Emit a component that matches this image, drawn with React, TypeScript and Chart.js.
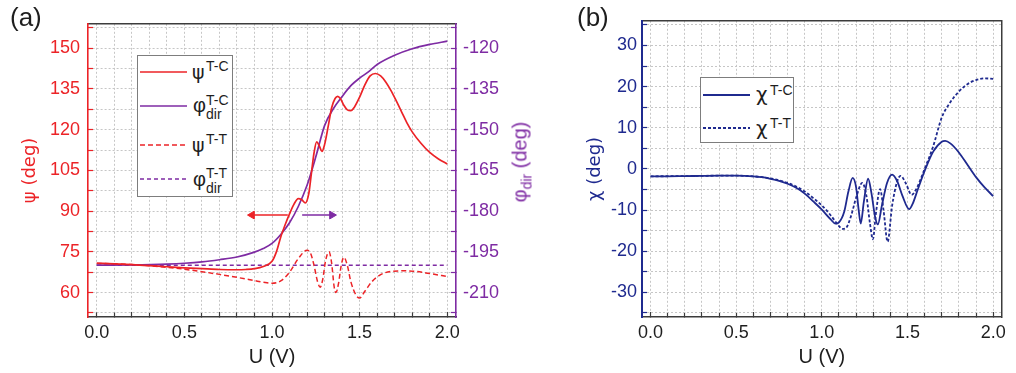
import React, { useEffect, useRef } from 'react';
import { Chart, registerables } from 'chart.js';

Chart.register(...registerables);

// ---------------- data ----------------
const psiTC_U = [0, 0.1, 0.2, 0.3, 0.4, 0.5, 0.6, 0.7, 0.8, 0.85, 0.9, 0.95, 1.0, 1.025, 1.05, 1.075, 1.1, 1.125, 1.15, 1.17, 1.19, 1.21, 1.225, 1.24, 1.255, 1.27, 1.285, 1.3, 1.32, 1.34, 1.36, 1.375, 1.39, 1.41, 1.43, 1.45, 1.47, 1.5, 1.53, 1.56, 1.59, 1.62, 1.65, 1.68, 1.71, 1.74, 1.77, 1.8, 1.85, 1.9, 1.95, 2.0];
const psiTC = [70.8, 70.6, 70.3, 69.9, 69.5, 69.1, 68.8, 68.5, 68.4, 68.5, 68.8, 69.6, 71.5, 75, 80.5, 85, 89, 92.5, 94.6, 94.2, 93, 96.5, 104, 111.5, 115.5, 114, 112, 114.5, 121, 128, 131.5, 132.3, 131.5, 129, 127.3, 127, 128.3, 132, 136.5, 139.8, 140.7, 139.8, 137.5, 134.3, 130.5, 126.5, 122.5, 119.2, 115, 111.6, 109.2, 107.4];

const phiTC_U = [0, 0.2, 0.4, 0.5, 0.6, 0.7, 0.8, 0.9, 0.95, 1.0, 1.05, 1.1, 1.15, 1.2, 1.25, 1.3, 1.35, 1.4, 1.45, 1.5, 1.55, 1.6, 1.7, 1.8, 1.9, 2.0];
const phiTC = [-199.9, -199.8, -199.5, -199.2, -198.7, -197.9, -196.9, -195.1, -193.8, -191.9, -188.6, -184.3, -178.3, -170.5, -160, -148.5, -142.3, -137.8, -133.8, -131, -128.7, -126, -122.6, -120.2, -118.6, -117.4];

const psiTT_U = [0, 0.1, 0.2, 0.3, 0.4, 0.5, 0.6, 0.7, 0.8, 0.9, 0.95, 1.0, 1.05, 1.1, 1.15, 1.2, 1.22, 1.24, 1.26, 1.275, 1.29, 1.305, 1.325, 1.34, 1.355, 1.365, 1.38, 1.395, 1.41, 1.43, 1.45, 1.48, 1.5, 1.53, 1.57, 1.62, 1.68, 1.75, 1.82, 1.9, 2.0];
const psiTT = [70.8, 70.6, 70.3, 69.9, 69.3, 68.6, 67.7, 66.7, 65.6, 64.4, 63.8, 63.4, 64.3, 67.5, 72.5, 75.6, 74.5, 70, 64, 62, 65, 71.5, 75, 71, 62, 60, 63.5, 70, 73, 70, 64, 59, 58, 60.5, 64, 66.6, 67.8, 68, 67.8, 67, 65.9];

const phiTT_U = [0, 2.0];
const phiTT = [-199.9, -199.9];

const chiTC_U = [0, 0.1, 0.2, 0.3, 0.4, 0.5, 0.6, 0.65, 0.7, 0.75, 0.8, 0.85, 0.9, 0.95, 1.0, 1.05, 1.08, 1.1, 1.13, 1.155, 1.18, 1.2, 1.215, 1.227, 1.245, 1.27, 1.29, 1.31, 1.327, 1.35, 1.38, 1.41, 1.44, 1.47, 1.51, 1.53, 1.56, 1.6, 1.65, 1.7, 1.72, 1.75, 1.8, 1.85, 1.9, 1.95, 2.0];
const chiTC = [-1.8, -1.8, -1.75, -1.7, -1.65, -1.65, -1.8, -2.0, -2.4, -2.9, -3.6, -4.6, -6.0, -7.9, -9.9, -12.2, -13.3, -13.0, -10.5, -5.5, -2.2, -4.5, -10, -13.3, -8, -2.4, -6, -11.5, -13.5, -9, -3.5, -1.4, -3, -6.5, -9.8, -8.5, -5, -0.5, 4.2, 6.6, 6.8, 6.2, 4, 1, -2, -4.5, -6.6];

const chiTT_U = [0, 0.2, 0.4, 0.5, 0.6, 0.7, 0.8, 0.85, 0.9, 0.95, 1.0, 1.05, 1.1, 1.12, 1.14, 1.17, 1.2, 1.236, 1.26, 1.28, 1.298, 1.315, 1.34, 1.36, 1.384, 1.41, 1.44, 1.46, 1.49, 1.524, 1.55, 1.6, 1.65, 1.7, 1.75, 1.8, 1.85, 1.9, 1.95, 2.0];
const chiTT = [-1.8, -1.75, -1.65, -1.65, -1.8, -2.3, -3.4, -4.3, -5.5, -7.1, -8.9, -11.2, -13.9, -14.6, -14.4, -11.5, -7, -3.4, -6.5, -13, -17.1, -11, -4.9, -10, -17.7, -9, -3, -1.7, -3.5, -6.3, -5, 0, 5.5, 12.5, 16.2, 18.8, 20.6, 21.6, 22, 21.9];

// arrows in panel (a): [head, tail]
const arrowPsi_U = [0.886, 1.09];
const arrowPsi = [88.55, 88.55];
const arrowPhi_U = [1.172, 1.342];
const arrowPhi = [-181.45, -181.45];

// ticks
const xTickValues = [0, 0.1, 0.2, 0.3, 0.4, 0.5, 0.6, 0.7, 0.8, 0.9, 1.0, 1.1, 1.2, 1.3, 1.4, 1.5, 1.6, 1.7, 1.8, 1.9, 2.0];
const xTickLabels = ['0.0', '', '', '', '', '0.5', '', '', '', '', '1.0', '', '', '', '', '1.5', '', '', '', '', '2.0'];
const psiTickValues = [52.5, 60, 67.5, 75, 82.5, 90, 97.5, 105, 112.5, 120, 127.5, 135, 142.5, 150, 157.5];
const psiTickLabels = ['', '60', '', '75', '', '90', '', '105', '', '120', '', '135', '', '150', ''];
const phiTickValues = [-217.5, -210, -202.5, -195, -187.5, -180, -172.5, -165, -157.5, -150, -142.5, -135, -127.5, -120, -112.5];
const phiTickLabels = ['', '-210', '', '-195', '', '-180', '', '-165', '', '-150', '', '-135', '', '-120', ''];
const chiTickValues = [-35, -30, -25, -20, -15, -10, -5, 0, 5, 10, 15, 20, 25, 30, 35];
const chiTickLabels = ['', '-30', '', '-20', '', '-10', '', '0', '', '10', '', '20', '', '30', ''];

// ---------------- styles ----------------
const FONT = "'Liberation Sans', Arial, Helvetica, sans-serif";
const GREEK = "'DejaVu Sans', 'Noto Sans', sans-serif";
const RED = '#ec2327';
const PURPLE = '#7e2ba3';
const BLUE = '#1f2a8f';
const GRID = '#c6c6c6';
const DARK = '#3c3c3c';
const TEXT = '#1e1e1e';

const pts = (xs: number[], ys: number[]) => xs.map((x, i) => ({ x, y: ys[i] }));

const tickFont = { family: FONT, size: 18 };
const titleFont = { family: FONT, size: 20 };
const greekTitleFont = { family: GREEK, size: 18 };

function xScale() {
  return {
    type: 'linear',
    position: 'bottom',
    min: -0.05,
    max: 2.05,
    afterBuildTicks: (s: any) => { s.ticks = xTickValues.map((v) => ({ value: v })); },
    afterFit: (s: any) => { s.height = 56; },
    ticks: {
      callback: (_v: any, i: number) => xTickLabels[i],
      font: tickFont, color: TEXT, padding: 10, autoSkip: false, maxRotation: 0,
    },
    grid: { color: GRID, lineWidth: 1, tickColor: DARK, tickLength: -5, tickWidth: 1.2 },
    border: { color: DARK, width: 1.5, dash: [2, 2] },
    title: { display: true, text: 'U (V)', color: TEXT, font: titleFont, padding: { top: 0, bottom: 4 } },
  };
}

function topScale() {
  return {
    type: 'linear',
    position: 'top',
    min: -0.05,
    max: 2.05,
    afterFit: (s: any) => { s.height = 20; },
    ticks: { display: false },
    grid: { display: false, drawTicks: false },
    border: { color: DARK, width: 1.5 },
  };
}

function PanelA() {
  const ref = useRef<HTMLCanvasElement>(null);
  useEffect(() => {
    const chart = new Chart(ref.current as HTMLCanvasElement, {
      type: 'line',
      data: {
        datasets: [
          { data: pts(psiTC_U, psiTC), yAxisID: 'y', borderColor: RED, borderWidth: 1.7, pointRadius: 0, cubicInterpolationMode: 'monotone' },
          { data: pts(phiTC_U, phiTC), yAxisID: 'y2', borderColor: PURPLE, borderWidth: 1.7, pointRadius: 0, cubicInterpolationMode: 'monotone' },
          { data: pts(psiTT_U, psiTT), yAxisID: 'y', borderColor: RED, borderWidth: 1.5, borderDash: [5, 3], pointRadius: 0, cubicInterpolationMode: 'monotone' },
          { data: pts(phiTT_U, phiTT), yAxisID: 'y2', borderColor: PURPLE, borderWidth: 1.5, borderDash: [4, 3], pointRadius: 0 },
          { data: pts(arrowPsi_U, arrowPsi), yAxisID: 'y', borderColor: RED, borderWidth: 1.5, pointStyle: 'triangle', pointRadius: [4.5, 0], pointRotation: [-90, 0], pointBackgroundColor: RED, pointBorderColor: RED, pointBorderWidth: 1 },
          { data: pts(arrowPhi_U, arrowPhi), yAxisID: 'y2', borderColor: PURPLE, borderWidth: 1.5, pointStyle: 'triangle', pointRadius: [0, 4.5], pointRotation: [0, 90], pointBackgroundColor: PURPLE, pointBorderColor: PURPLE, pointBorderWidth: 1 },
        ] as any,
      },
      options: {
        animation: false,
        responsive: false,
        layout: { padding: 0 },
        plugins: { legend: { display: false }, tooltip: { enabled: false } },
        scales: {
          x: xScale() as any,
          xTop: topScale() as any,
          y: {
            type: 'linear', position: 'left', min: 51, max: 159,
            afterBuildTicks: (s: any) => { s.ticks = psiTickValues.map((v) => ({ value: v })); },
            afterFit: (s: any) => { s.width = 88; },
            ticks: { callback: (_v: any, i: number) => psiTickLabels[i], font: tickFont, color: RED, padding: 13, autoSkip: false },
            grid: { color: GRID, lineWidth: 1, tickColor: RED, tickLength: -5, tickWidth: 1.2 },
            border: { color: RED, width: 1.6, dash: [2, 2] },
            title: { display: true, text: 'ψ (deg)', color: RED, font: greekTitleFont, padding: { top: 20, bottom: 0 } },
          } as any,
          y2: {
            type: 'linear', position: 'right', min: -219, max: -111,
            afterBuildTicks: (s: any) => { s.ticks = phiTickValues.map((v) => ({ value: v })); },
            afterFit: (s: any) => { s.width = 104; },
            ticks: { callback: (_v: any, i: number) => phiTickLabels[i], font: tickFont, color: PURPLE, padding: 12, autoSkip: false },
            grid: { drawOnChartArea: false, tickColor: PURPLE, tickLength: -5, tickWidth: 1.2 },
            border: { color: PURPLE, width: 1.6 },
          } as any,
        },
      },
    });
    return () => chart.destroy();
  }, []);
  return <canvas ref={ref} width={560} height={373} style={{ position: 'absolute', left: 0, top: 0, width: 560, height: 373 }} />;
}

function PanelB() {
  const ref = useRef<HTMLCanvasElement>(null);
  useEffect(() => {
    const chart = new Chart(ref.current as HTMLCanvasElement, {
      type: 'line',
      data: {
        datasets: [
          { data: pts(chiTC_U, chiTC), borderColor: BLUE, borderWidth: 1.8, pointRadius: 0, cubicInterpolationMode: 'monotone' },
          { data: pts(chiTT_U, chiTT), borderColor: BLUE, borderWidth: 1.8, borderDash: [3, 2], pointRadius: 0, cubicInterpolationMode: 'monotone' },
        ] as any,
      },
      options: {
        animation: false,
        responsive: false,
        layout: { padding: 0 },
        plugins: { legend: { display: false }, tooltip: { enabled: false } },
        scales: {
          x: xScale() as any,
          xTop: topScale() as any,
          y: {
            type: 'linear', position: 'left', min: -36, max: 36,
            afterBuildTicks: (s: any) => { s.ticks = chiTickValues.map((v) => ({ value: v })); },
            afterFit: (s: any) => { s.width = 82; },
            ticks: { callback: (_v: any, i: number) => chiTickLabels[i], font: tickFont, color: BLUE, padding: 10, autoSkip: false },
            grid: { color: GRID, lineWidth: 1, tickColor: BLUE, tickLength: -5, tickWidth: 1.2 },
            border: { color: BLUE, width: 2, dash: [2, 2] },
            title: { display: true, text: 'χ (deg)', color: BLUE, font: greekTitleFont, padding: { top: 25, bottom: 0 } },
          } as any,
          yRight: {
            type: 'linear', position: 'right', min: -36, max: 36,
            afterFit: (s: any) => { s.width = 6; },
            ticks: { display: false },
            grid: { display: false, drawTicks: false },
            border: { color: DARK, width: 1.5 },
          } as any,
        },
      },
    });
    return () => chart.destroy();
  }, []);
  return <canvas ref={ref} width={456} height={373} style={{ position: 'absolute', left: 560, top: 0, width: 456, height: 373 }} />;
}

// ---------- text helpers (HTML overlays) ----------
function Txt({ x, base, size, color = TEXT, greek = false, children }: { x: number; base: number; size: number; color?: string; greek?: boolean; children: React.ReactNode }) {
  return (
    <span style={{ position: 'absolute', left: x, top: base - 0.8465 * size, fontSize: size, lineHeight: `${size}px`, fontFamily: greek ? GREEK : FONT, color, whiteSpace: 'nowrap' }}>
      {children}
    </span>
  );
}

function Sample({ x1, x2, y, color, dash, width = 1.7 }: { x1: number; x2: number; y: number; color: string; dash?: string; width?: number }) {
  return (
    <svg style={{ position: 'absolute', left: x1, top: y - 3, overflow: 'visible' }} width={x2 - x1} height={6}>
      <line x1={0} x2={x2 - x1} y1={3} y2={3} stroke={color} strokeWidth={width} strokeDasharray={dash} />
    </svg>
  );
}

function Box({ x, y, w, h }: { x: number; y: number; w: number; h: number }) {
  return <div style={{ position: 'absolute', left: x, top: y, width: w, height: h, border: '1px solid #7d7d7d', background: '#fff', boxSizing: 'border-box' }} />;
}

export default function App() {
  return (
    <div style={{ position: 'absolute', left: 0, top: 0, width: 1016, height: 373, background: '#fff', overflow: 'hidden' }}>
      <PanelA />
      <PanelB />

      {/* panel labels */}
      <Txt x={10} base={26} size={26}>(a)</Txt>
      <Txt x={577} base={26} size={26}>(b)</Txt>

      {/* right axis title of (a) */}
      <div style={{ position: 'absolute', left: 523, top: 162, transform: 'translate(-50%, -50%) rotate(-90deg)', fontFamily: FONT, fontSize: 20, color: PURPLE, whiteSpace: 'nowrap', lineHeight: '24px' }}>
        φ<sub style={{ fontSize: 14 }}>dir</sub> (deg)
      </div>

      {/* legend (a) */}
      <Box x={137} y={55} w={96} h={142} />
      <Sample x1={140} x2={187} y={72} color={RED} />
      <Txt x={192} base={79} size={19} greek>ψ</Txt>
      <Txt x={206} base={71} size={14}>T-C</Txt>

      <Sample x1={140} x2={187} y={106} color={PURPLE} />
      <Txt x={193} base={112} size={20}>φ</Txt>
      <Txt x={206} base={105} size={14}>T-C</Txt>
      <Txt x={206} base={119} size={14}>dir</Txt>

      <Sample x1={140} x2={187} y={145} color={RED} dash="5 3" width={1.5} />
      <Txt x={192} base={152} size={19} greek>ψ</Txt>
      <Txt x={206} base={144} size={14}>T-T</Txt>

      <Sample x1={140} x2={187} y={179} color={PURPLE} dash="4 3" width={1.5} />
      <Txt x={193} base={186} size={20}>φ</Txt>
      <Txt x={206} base={178} size={14}>T-T</Txt>
      <Txt x={206} base={193} size={14}>dir</Txt>

      {/* legend (b) */}
      <Box x={700} y={77} w={94} h={66} />
      <Sample x1={703} x2={750} y={95} color={BLUE} width={1.8} />
      <Txt x={756} base={101} size={20} greek>χ</Txt>
      <Txt x={770} base={95} size={14}>T-C</Txt>
      <Sample x1={703} x2={750} y={128} color={BLUE} dash="3 2" width={1.8} />
      <Txt x={756} base={135} size={20} greek>χ</Txt>
      <Txt x={770} base={128} size={14}>T-T</Txt>
    </div>
  );
}
